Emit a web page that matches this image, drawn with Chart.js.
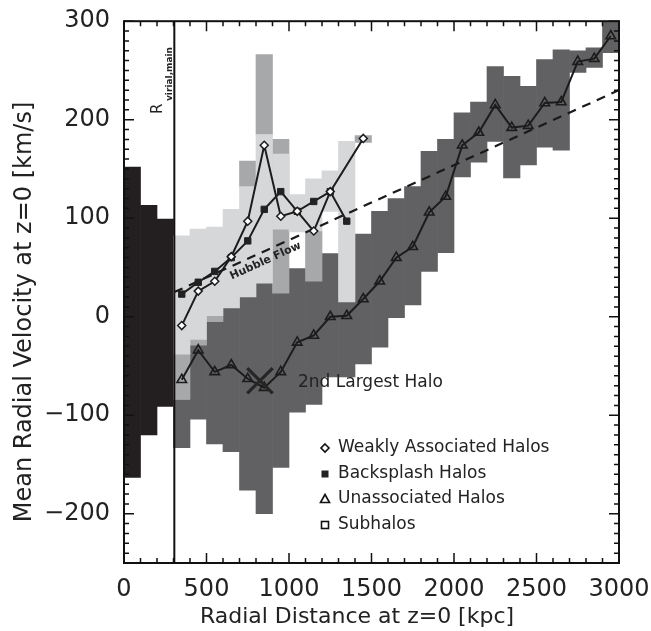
<!DOCTYPE html>
<html><head><meta charset="utf-8">
<script src="https://cdn.jsdelivr.net/npm/chart.js@4.4.1/dist/chart.umd.min.js"></script>
<style>html,body{margin:0;padding:0;background:#fff;}#wrap{width:651px;height:631px;position:relative;}</style>
</head><body><div id="wrap"><canvas id="c" width="651" height="631"></canvas></div>
<script>
// ---------- data (kpc, km/s) ----------
const subhaloBins = [50, 150, 250];
const subhaloLow  = [-163, -120, -91];
const subhaloHigh = [152, 113, 99];

const unassocBins = [350,450,550,650,750,850,950,1050,1150,1250,1350,1450,1550,1650,1750,1850,1950,2050,2150,2250,2350,2450,2550,2650,2750,2850,2950];
const unassocLow  = [-133,-104,-129,-137,-176,-200,-153,-97,-89,-61,-61,-48,-31,-1,12,46,65,142,157,178,141,154,172,169,248,253,268];
const unassocHigh = [-84,-29,-5,9,20,34,24,49,44,64,20,84,107,120,132,168,180,207,218,254,244,234,261,271,270,273,300];

const backsplashBins = [350,450,550,750,850,950,1150,1450];
const backsplashLow  = [-84,-29,-5,132,185,24,36,177];
const backsplashHigh = [-38,-23,1,158,266,180,87,184];

const weaklyBins = [350,450,550,650,750,850,950,1050,1150,1250,1350];
const weaklyLow  = [-38,-23,1,9,20,34,89,86,87,107,15];
const weaklyHigh = [82,89,91,109,132,185,165,124,140,148,178];

const weaklyX    = [350,450,550,650,750,850,950,1050,1150,1250,1350,1450];
const weaklyMean = [-9,26,36,61,97,174,102,107,87,127,null,181];

const backsplashX    = [350,450,550,650,750,850,950,1050,1150,1250,1350];
const backsplashMean = [23,35,46,60,77,109,127,107,117,127,97];

const unassocX    = unassocBins;
const unassocMean = [-64,-34,-56,-49,-63,-72,-56,-26,-19,0,1,18,36,60,71,106,122,174,187,215,192,194,217,218,259,262,285];

const hubbleX = [305, 3000];
const hubbleV = [25, 230];

const rVirial = 305;
const secondHalo = {x: 824, y: -65};

const xTicks = [0,500,1000,1500,2000,2500,3000];
const yTicks = [-200,-100,0,100,200,300];

const legendLabels = ['Weakly Associated Halos','Backsplash Halos','Unassociated Halos','Subhalos'];

// ---------- helpers ----------
const pts = (xs, ys) => xs.map((x,i)=>({x:x, y:ys[i]}));
const ranges = (xs, lo, hi) => xs.map((x,i)=>({x:x, y:[lo[i], hi[i]]}));

const C_BLACK='#231f20', C_DARK='#616163', C_MED='#a6a8aa', C_LIGHT='#d6d7d9', C_LINE='#1c1c1c';
const FONT='"DejaVu Sans", sans-serif';

const barBase = {type:'bar', grouped:false, barPercentage:1, categoryPercentage:1, borderWidth:0};

const decor = {
  id:'decor',
  afterDatasetsDraw(chart){
    const {ctx, chartArea:a, scales:{x, y}} = chart;
    ctx.save();
    ctx.strokeStyle='#111'; ctx.lineWidth=2;
    ctx.strokeRect(a.left, a.top, a.right-a.left, a.bottom-a.top);
    ctx.lineWidth=1.5;
    ctx.beginPath();
    for(let v=0; v<=3000; v+=100){
      const px = x.getPixelForValue(v); const L = (v%500===0)?10:5;
      ctx.moveTo(px, a.bottom); ctx.lineTo(px, a.bottom-L);
      ctx.moveTo(px, a.top); ctx.lineTo(px, a.top+L);
    }
    for(let v=-250; v<=300; v+=10){
      const py = y.getPixelForValue(v); const L = (v%100===0)?10:5;
      ctx.moveTo(a.left, py); ctx.lineTo(a.left+L, py);
      ctx.moveTo(a.right, py); ctx.lineTo(a.right-L, py);
    }
    ctx.stroke();

    ctx.fillStyle='#222';
    const hx = 840;
    const hv = hubbleV[0] + (hubbleV[1]-hubbleV[0])*(hx-hubbleX[0])/(hubbleX[1]-hubbleX[0]);
    const x0=x.getPixelForValue(hubbleX[0]), y0=y.getPixelForValue(hubbleV[0]);
    const x1=x.getPixelForValue(hubbleX[1]), y1=y.getPixelForValue(hubbleV[1]);
    const ang = Math.atan2(y1-y0, x1-x0);
    ctx.save();
    ctx.translate(x.getPixelForValue(hx)+3, y.getPixelForValue(hv)+9);
    ctx.rotate(ang);
    ctx.font='bold 11px '+FONT; ctx.textAlign='center'; ctx.textBaseline='middle';
    ctx.fillText('Hubble Flow', 0, 0);
    ctx.restore();

    ctx.save();
    ctx.translate(162, 114); ctx.rotate(-Math.PI/2);
    ctx.textAlign='left'; ctx.textBaseline='alphabetic';
    ctx.font='15px '+FONT; ctx.fillText('R', 0, 0);
    ctx.font='bold 9px '+FONT; ctx.fillText('virial,main', 13, 10);
    ctx.restore();

    ctx.font='17px '+FONT; ctx.textAlign='left'; ctx.textBaseline='middle';
    ctx.fillText('2nd Largest Halo', 298, 383);

    const lx=325, tx=338, rows=[448,474,499,525];
    ctx.font='17px '+FONT;
    rows.forEach((ry,i)=>{ ctx.fillText(legendLabels[i], tx, ry); });
    ctx.strokeStyle='#111'; ctx.lineWidth=1.6;
    ctx.beginPath(); ctx.moveTo(lx, rows[0]-4); ctx.lineTo(lx+4, rows[0]); ctx.lineTo(lx, rows[0]+4); ctx.lineTo(lx-4, rows[0]); ctx.closePath(); ctx.stroke();
    ctx.fillStyle='#222'; ctx.fillRect(lx-3.5, rows[1]-3.5, 7, 7);
    ctx.beginPath(); ctx.moveTo(lx, rows[2]-4.5); ctx.lineTo(lx+4.5, rows[2]+3.5); ctx.lineTo(lx-4.5, rows[2]+3.5); ctx.closePath(); ctx.stroke();
    ctx.strokeRect(lx-3.5, rows[3]-3.5, 7, 7);

    ctx.fillStyle='#222';
    ctx.font='22px '+FONT; ctx.textAlign='center'; ctx.textBaseline='middle';
    ctx.fillText('Radial Distance at z=0 [kpc]', 357, 617);
    ctx.save(); ctx.translate(25, 312); ctx.rotate(-Math.PI/2);
    ctx.font='24px '+FONT;
    ctx.fillText('Mean Radial Velocity at z=0 [km/s]', 0, 0);
    ctx.restore();
    ctx.restore();
  }
};

new Chart(document.getElementById('c'), {
  type:'bar',
  data:{ datasets:[
    {type:'scatter', data:[secondHalo], pointStyle:'crossRot', pointRadius:18, pointBorderWidth:3.2, pointBorderColor:'#262626', order:0},
    {type:'line', data:pts(weaklyX, weaklyMean), borderColor:C_LINE, borderWidth:2, spanGaps:true, tension:0,
      pointStyle:'rectRot', pointRadius:4, pointBackgroundColor:'#ffffff', pointBorderColor:C_LINE, pointBorderWidth:1.5, order:1},
    {type:'line', data:pts(backsplashX, backsplashMean), borderColor:C_LINE, borderWidth:2, tension:0,
      pointStyle:'rect', pointRadius:4.5, pointBackgroundColor:'#222', pointBorderColor:'#222', pointBorderWidth:1, order:2},
    {type:'line', data:pts(unassocX, unassocMean), borderColor:C_LINE, borderWidth:2, tension:0,
      pointStyle:'triangle', pointRadius:5.5, pointBackgroundColor:'rgba(0,0,0,0)', pointBorderColor:C_LINE, pointBorderWidth:1.6, order:3},
    {type:'line', data:pts(hubbleX, hubbleV), borderColor:'#1a1a1a', borderWidth:2.2, borderDash:[9,7], pointRadius:0, order:4},
    {type:'line', data:[{x:rVirial,y:-250},{x:rVirial,y:300}], borderColor:'#111', borderWidth:2, pointRadius:0, order:5},
    Object.assign({data:ranges(weaklyBins, weaklyLow, weaklyHigh), backgroundColor:C_LIGHT, order:10}, barBase),
    Object.assign({data:ranges(backsplashBins, backsplashLow, backsplashHigh), backgroundColor:C_MED, order:11}, barBase),
    Object.assign({data:ranges(unassocBins, unassocLow, unassocHigh), backgroundColor:C_DARK, order:12}, barBase),
    Object.assign({data:ranges(subhaloBins, subhaloLow, subhaloHigh), backgroundColor:C_BLACK, order:13}, barBase)
  ]},
  options:{
    responsive:false, animation:false, events:[],
    layout:{padding:{left:0, right:32, top:15, bottom:0}},
    plugins:{legend:{display:false}, tooltip:{enabled:false}},
    scales:{
      x:{type:'linear', min:0, max:3000, offset:false,
        afterFit(s){ s.height = 68; s.paddingLeft = 0; s.paddingRight = 0; },
        afterBuildTicks(s){ s.ticks = xTicks.map(v=>({value:v})); },
        grid:{display:false, drawTicks:false}, border:{display:false},
        ticks:{padding:12, maxRotation:0, autoSkip:false, color:'#222', font:{family:'DejaVu Sans', size:24},
          callback:(v)=> String(v)}
      },
      y:{type:'linear', min:-250, max:300,
        afterFit(s){ s.width = 124; s.paddingTop = 0; s.paddingBottom = 0; },
        afterBuildTicks(s){ s.ticks = yTicks.map(v=>({value:v})); },
        grid:{display:false, drawTicks:false}, border:{display:false},
        ticks:{padding:14, autoSkip:false, color:'#222', font:{family:'DejaVu Sans', size:24},
          callback:(v)=> v<0 ? '\u2212'+Math.abs(v) : String(v)}
      }
    }
  },
  plugins:[decor]
});
</script></body></html>
